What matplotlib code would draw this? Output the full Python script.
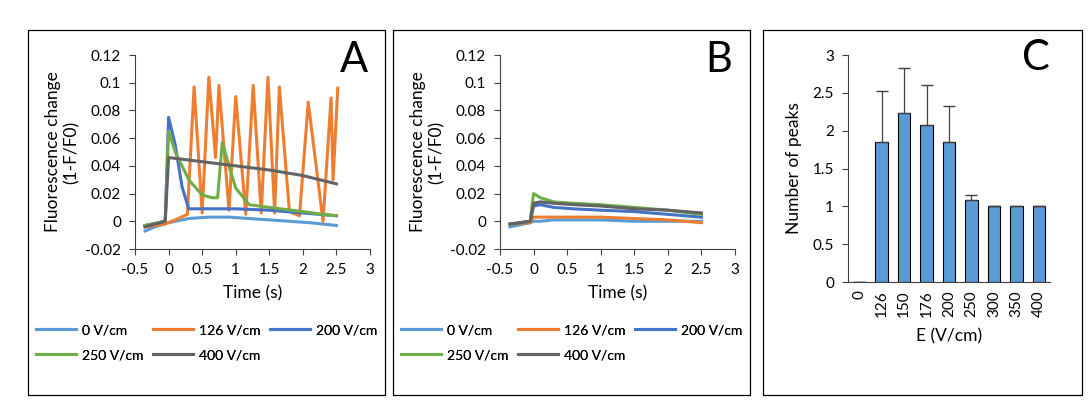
import matplotlib.pyplot as plt
from matplotlib.patches import Rectangle

plt.rcParams['font.family'] = ['Lato', 'DejaVu Sans']

# panel A traces (time s, 1-F/F0)
a_t0 = [-0.35, -0.2, 0.0, 0.3, 0.6, 0.9, 1.2, 1.5, 1.8, 2.1, 2.3, 2.5]
a_v0 = [-0.007, -0.004, -0.001, 0.002, 0.003, 0.003, 0.002, 0.001, 0.0, -0.001, -0.002, -0.003]
a_t126 = [-0.35, -0.05, 0.1, 0.28, 0.38, 0.5, 0.6, 0.7, 0.75, 0.9, 1.0, 1.15, 1.26, 1.38, 1.48,
          1.58, 1.65, 1.8, 1.95, 2.08, 2.3, 2.42, 2.45, 2.52]
a_v126 = [-0.004, -0.002, 0.001, 0.005, 0.097, 0.006, 0.104, 0.046, 0.098, 0.008, 0.090, 0.005, 0.098,
          0.006, 0.104, 0.006, 0.097, 0.007, 0.004, 0.086, 0.0, 0.089, 0.03, 0.096]
a_t200 = [-0.35, -0.05, 0.0, 0.1, 0.2, 0.3, 0.5, 1.0, 1.5, 2.0, 2.5]
a_v200 = [-0.003, 0.0, 0.075, 0.055, 0.025, 0.009, 0.009, 0.009, 0.008, 0.006, 0.004]
a_t250 = [-0.35, -0.05, 0.0, 0.1, 0.3, 0.5, 0.65, 0.73, 0.8, 0.9, 1.0, 1.2, 1.5, 2.0, 2.3, 2.5]
a_v250 = [-0.003, 0.0, 0.065, 0.05, 0.03, 0.019, 0.017, 0.017, 0.057, 0.04, 0.024, 0.012, 0.01, 0.007, 0.005, 0.004]
a_t400 = [-0.35, -0.05, 0.0, 0.5, 1.0, 1.5, 2.0, 2.5]
a_v400 = [-0.004, 0.0, 0.046, 0.043, 0.040, 0.037, 0.033, 0.027]

# panel B traces
b_t = [-0.35, -0.05, 0.0, 0.1, 0.3, 0.6, 1.0, 1.5, 2.0, 2.5]
b_v0 = [-0.004, -0.001, 0.0, 0.0, 0.001, 0.001, 0.001, 0.0, 0.0, 0.0]
b_v126 = [-0.002, -0.001, 0.003, 0.003, 0.003, 0.003, 0.003, 0.002, 0.001, -0.001]
b_v200 = [-0.002, 0.0, 0.011, 0.012, 0.010, 0.009, 0.008, 0.007, 0.005, 0.003]
b_v250 = [-0.002, 0.0, 0.020, 0.017, 0.014, 0.013, 0.012, 0.010, 0.008, 0.005]
b_v400 = [-0.002, 0.0, 0.013, 0.014, 0.013, 0.012, 0.011, 0.009, 0.008, 0.006]

labels = ['0 V/cm', '126 V/cm', '200 V/cm', '250 V/cm', '400 V/cm']
colors = ['#5B9BD5', '#ED7D31', '#4472C4', '#70AD47', '#636363']

# panel C
fields = ['0', '126', '150', '176', '200', '250', '300', '350', '400']
peaks = [0, 1.85, 2.23, 2.08, 1.85, 1.08, 1.0, 1.0, 1.0]
peak_err = [0, 0.68, 0.60, 0.52, 0.47, 0.07, 0, 0, 0]

W, H = 1089, 411
fig = plt.figure(figsize=(W / 100, H / 100), dpi=100)


def box(x0, y0, x1, y1):
    return [x0 / W, 1 - y1 / H, (x1 - x0) / W, (y1 - y0) / H]


for x0, x1 in [(28, 385), (393, 750), (763, 1082)]:
    fig.patches.append(Rectangle((x0 / W, 1 - 395 / H), (x1 - x0) / W, 365 / H,
                                 transform=fig.transFigure, fill=False, ec='black', lw=0.9))

# legend entry slots (x offset, y) in pixels, like Excel's grid
slots = [(0, 330), (117, 330), (234, 330), (0, 355), (117, 355)]


def trace_panel(rect, traces, letter, legx):
    ax = fig.add_axes(rect)
    lines = []
    for (t, v), c, lab in zip(traces, colors, labels):
        ln, = ax.plot(t, v, color=c, lw=2.2, label=lab)
        lines.append(ln)
    ax.set_xlim(-0.5, 3)
    ax.set_ylim(-0.02, 0.12)
    ax.set_xticks([-0.5, 0, 0.5, 1, 1.5, 2, 2.5, 3])
    ax.set_xticklabels(['-0.5', '0', '0.5', '1', '1.5', '2', '2.5', '3'])
    ax.set_yticks([-0.02, 0, 0.02, 0.04, 0.06, 0.08, 0.1, 0.12])
    ax.set_yticklabels(['-0.02', '0', '0.02', '0.04', '0.06', '0.08', '0.1', '0.12'])
    ax.spines[['top', 'right']].set_visible(False)
    ax.spines[['left', 'bottom']].set_color('#404040')
    ax.tick_params(labelsize=11, direction='out', length=4, color='#404040', pad=6)
    ax.set_xlabel('Time (s)', fontsize=12.5, labelpad=6)
    ax.set_ylabel('Fluorescence change\n(1-F/F0)', fontsize=12.5, labelpad=4)
    ax.text(0.93, 1.07, letter, transform=ax.transAxes, fontsize=30, ha='center', va='top')
    for ln, lab, (dx, py) in zip(lines, labels, slots):
        leg = fig.legend([ln], [lab], frameon=False, fontsize=10, handlelength=2.9,
                         handletextpad=0.4, loc='center left', borderaxespad=0, borderpad=0,
                         bbox_to_anchor=((legx + dx) / W, 1 - py / H))
        fig.add_artist(leg)


trace_panel(box(135, 55, 370, 249),
            [(a_t0, a_v0), (a_t126, a_v126), (a_t200, a_v200), (a_t250, a_v250), (a_t400, a_v400)],
            'A', 36)
trace_panel(box(500, 55, 735, 249),
            [(b_t, b_v0), (b_t, b_v126), (b_t, b_v200), (b_t, b_v250), (b_t, b_v400)],
            'B', 401)

axc = fig.add_axes(box(848, 55, 1050, 282))
axc.bar(range(len(fields)), peaks, width=0.55, color='#5B9BD5', edgecolor='black', lw=0.8,
        yerr=[[0] * len(fields), peak_err], error_kw=dict(ecolor='#404040', elinewidth=0.9, capsize=4))
axc.set_xticks(range(len(fields)))
axc.set_xticklabels(fields, rotation=90)
axc.set_xlim(-0.5, len(fields) - 0.5)
axc.set_ylim(0, 3)
axc.set_yticks([0, 0.5, 1, 1.5, 2, 2.5, 3])
axc.set_yticklabels(['0', '0.5', '1', '1.5', '2', '2.5', '3'])
axc.spines[['top', 'right']].set_visible(False)
axc.spines[['left', 'bottom']].set_color('#404040')
axc.tick_params(labelsize=11, direction='out', length=4, color='#404040', pad=6)
axc.tick_params(axis='x', length=0)
axc.set_xlabel('E (V/cm)', fontsize=12.5, labelpad=8)
axc.set_ylabel('Number of peaks', fontsize=12.5, labelpad=8)
axc.text(0.93, 1.07, 'C', transform=axc.transAxes, fontsize=30, ha='center', va='top')

fig.savefig('out.png', dpi=100)
